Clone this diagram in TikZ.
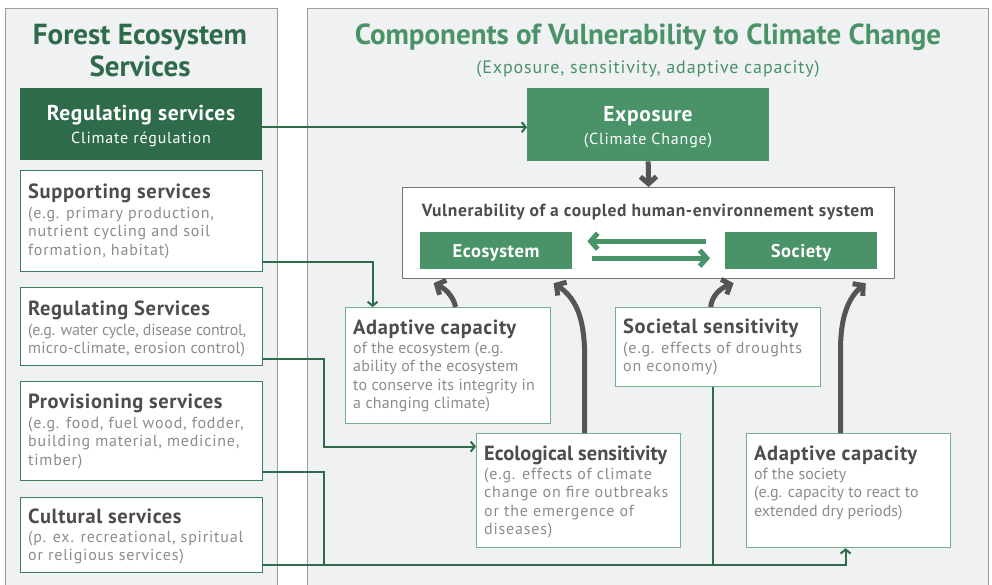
\documentclass[tikz,border=0pt]{standalone}
\usepackage{fontspec}
\setmainfont{PT Sans}
\usetikzlibrary{arrows.meta}
\definecolor{dkgreen}{HTML}{2E6B4A}
\definecolor{mdgreen}{HTML}{4A9369}
\definecolor{ltgreen}{HTML}{76B08A}
\definecolor{lfborder}{HTML}{3E7D5A}
\definecolor{tgray}{HTML}{4D4D4D}
\definecolor{dgray}{HTML}{8C8C8C}
\definecolor{panelbg}{HTML}{F0F1F3}
\definecolor{panelln}{HTML}{9C9C9C}
\definecolor{agray}{HTML}{555555}
\newcommand{\firstln}{\rule{0pt}{13pt}}
\newcommand{\trk}[1]{\addfontfeature{LetterSpace=#1}}
\begin{document}
\begin{tikzpicture}[x=1pt,y=-1pt,
  panel/.style={draw=panelln, fill=panelbg, line width=1pt, inner sep=0, anchor=north west},
  lbox/.style={draw=lfborder, fill=white, line width=1.2pt, inner sep=0, anchor=north west},
  rbox/.style={draw=ltgreen, fill=white, line width=1.2pt, inner sep=0, anchor=north west},
  fbox/.style={inner sep=0, anchor=north west},
  ttl/.style={font=\fontsize{20.5}{24}\selectfont\bfseries\trk{#1}, text=tgray, anchor=base west, inner sep=0},
  ttl/.default=3,
  dsc/.style={font=\fontsize{16}{18.5}\selectfont\trk{#1}, text=dgray, anchor=north west, inner sep=0, align=left},
  dsc/.default=5,
  garrow/.style={draw=dkgreen, line width=2pt, -{Straight Barb[length=4pt,width=10pt]}},
  gline/.style={draw=dkgreen, line width=2pt},
  bigarrow/.style={draw=agray, line width=5pt, -{Straight Barb[length=7pt,width=16pt]}},
  dblarrow/.style={draw=mdgreen, line width=5pt, -{Straight Barb[length=7pt,width=16pt]}}]
\useasboundingbox (0,0) rectangle (992,585);
\fill[white] (0,0) rectangle (992,585);
% panels
\node[panel, minimum width=272, minimum height=590] (lp) at (5,8) {};
\node[panel, minimum width=681, minimum height=590] (rp) at (307,8) {};
% titles
\node[anchor=base, inner sep=0, text=dkgreen, font=\fontsize{29}{32}\selectfont\bfseries] (lt1) at (140,45) {Forest Ecosystem};
\node[anchor=base, inner sep=0, text=dkgreen, font=\fontsize{29}{32}\selectfont\bfseries] (lt2) at (140,77) {Services};
\node[anchor=base, inner sep=0, text=mdgreen, font=\fontsize{29}{32}\selectfont\bfseries] (rt1) at (648,45) {Components of Vulnerability to Climate Change};
\node[anchor=base, inner sep=0, text=mdgreen, font=\fontsize{18}{20}\selectfont\trk{5}] (rt2) at (648,74) {(Exposure, sensitivity, adaptive capacity)};
% left boxes
\node[fbox, fill=dkgreen, minimum width=242, minimum height=72] (regd) at (20,88) {};
\node[anchor=base, inner sep=0, text=white, font=\fontsize{21.5}{24}\selectfont\bfseries\trk{3}] (regdt) at (141,121) {Regulating services};
\node[anchor=base, inner sep=0, text=white, font=\fontsize{16}{18}\selectfont\trk{5}] (regds) at (141,144) {Climate régulation};

\node[lbox, minimum width=242, minimum height=101] (sup) at (20,170) {};
\node[ttl] (supt) at (28,199) {Supporting services};
\node[dsc] (supd) at (28,205) {\firstln(e.g. primary production,\\nutrient cycling and soil\\formation, habitat)};

\node[lbox, minimum width=242, minimum height=78] (regs) at (20,287) {};
\node[ttl] (regst) at (28,315) {Regulating Services};
\node[dsc=0] (regsd) at (28,322) {\firstln{\trk{-1.5}(e.g. water cycle, disease control,}\\{\trk{1.5}micro-climate, erosion control)}};

\node[lbox, minimum width=242, minimum height=99] (prov) at (20,381) {};
\node[ttl] (provt) at (28,408) {Provisioning services};
\node[dsc] (provd) at (28,415) {\firstln(e.g. food, fuel wood, fodder,\\building material, medicine,\\timber)};

\node[lbox, minimum width=242, minimum height=75] (cult) at (20,497) {};
\node[ttl] (cultt) at (28,523) {Cultural services};
\node[dsc] (cultd) at (28,529) {\firstln(p. ex. recreational, spiritual\\or religious services)};

% right side
\node[fbox, fill=mdgreen, minimum width=242, minimum height=73] (expo) at (527,88) {};
\node[anchor=base, inner sep=0, text=white, font=\fontsize{21.5}{24}\selectfont\bfseries\trk{3}] (expot) at (648,122) {Exposure};
\node[anchor=base, inner sep=0, text=white, font=\fontsize{16}{18}\selectfont\trk{5}] (expos) at (648,145) {(Climate Change)};

\node[fbox, draw=agray!80, fill=white, line width=1.2pt, minimum width=492, minimum height=91] (vul) at (402,187) {};
\node[anchor=base, inner sep=0, text=tgray, font=\fontsize{17.5}{20}\selectfont\bfseries\trk{3.5}] (vult) at (648,217) {Vulnerability of a coupled human-environnement system};
\node[fbox, fill=mdgreen, minimum width=152, minimum height=37] (eco) at (420,232) {};
\node[anchor=base, inner sep=0, text=white, font=\fontsize{18.5}{20}\selectfont\bfseries\trk{3}] (ecot) at (496,257) {Ecosystem};
\node[fbox, fill=mdgreen, minimum width=152, minimum height=37] (soc) at (725,232) {};
\node[anchor=base, inner sep=0, text=white, font=\fontsize{18.5}{20}\selectfont\bfseries\trk{3}] (soct) at (801,257) {Society};

\node[rbox, minimum width=205, minimum height=116] (ace) at (345,307) {};
\node[ttl] (acet) at (353,334) {Adaptive capacity};
\node[dsc=1] (aced) at (353,340) {\firstln of the ecosystem (e.g.\\ability of the ecosystem\\to conserve its integrity in\\a changing climate)};

\node[rbox, minimum width=205, minimum height=79] (ssen) at (615,307) {};
\node[ttl] (ssent) at (623,333) {Societal sensitivity};
\node[dsc] (ssend) at (623,340) {\firstln(e.g. effects of droughts\\on economy)};

\node[rbox, minimum width=204, minimum height=114] (esen) at (476,433) {};
\node[ttl=0] (esent) at (484,460) {Ecological sensitivity};
\node[dsc] (esend) at (484,466) {\firstln(e.g. effects of climate\\change on fire outbreaks\\or the emergence of\\diseases)};

\node[rbox, minimum width=204, minimum height=114] (acs) at (746,433) {};
\node[ttl] (acst) at (754,460) {Adaptive capacity};
\node[dsc=0] (acsd) at (754,466) {\firstln of the society\\(e.g. capacity to react to\\extended dry periods)};

% helper coordinates
\coordinate (busx) at (324,0);
\coordinate (bot) at (0,564);

% green connectors
\draw[garrow] ([yshift=-3]regd.east) -- ([yshift=-3]regd.east -| expo.west);
\draw[garrow] ([yshift=-40.5]sup.east) -| ([xshift=-75.5]ace.north);
\draw[garrow] ([yshift=-32]regs.east) -- ([yshift=-32]regs.east -| busx) |- ([yshift=44]esen.west);
\draw[gline] ([yshift=-40.5]prov.east) -- ([yshift=-40.5]prov.east -| busx) -- (busx |- bot);
\draw[garrow] ([yshift=-29.5]cult.east) -| ([xshift=-3]acs.south);
\draw[gline] ([xshift=-5.5]ssen.south) -- ([xshift=-5.5]ssen.south |- bot);

% gray arrows
\draw[bigarrow] (expo.south) -- (vul.north);
\draw[bigarrow] ([xshift=7.5]ace.north) .. controls (453,295) and (444,288) .. ([xshift=-215,yshift=-4]vul.south);
\draw[bigarrow] ([xshift=6]esen.north) -- ++(0,-81) .. controls (584,318) and (576,298) .. ([xshift=-95,yshift=-4]vul.south);
\draw[bigarrow] ([xshift=-7.5]ssen.north) .. controls (712,295) and (721,288) .. ([xshift=85,yshift=-4]vul.south);
\draw[bigarrow] ([xshift=-8]acs.north) -- ++(0,-81) .. controls (840,318) and (848,298) .. ([xshift=217,yshift=-4]vul.south);

% double arrows
\draw[dblarrow] ([xshift=-19,yshift=9.5]soc.west) -- ([xshift=15,yshift=9.5]eco.east);
\draw[dblarrow] ([xshift=20,yshift=-7.5]eco.east) -- ([xshift=-15,yshift=-7.5]soc.west);
\end{tikzpicture}
\end{document}
